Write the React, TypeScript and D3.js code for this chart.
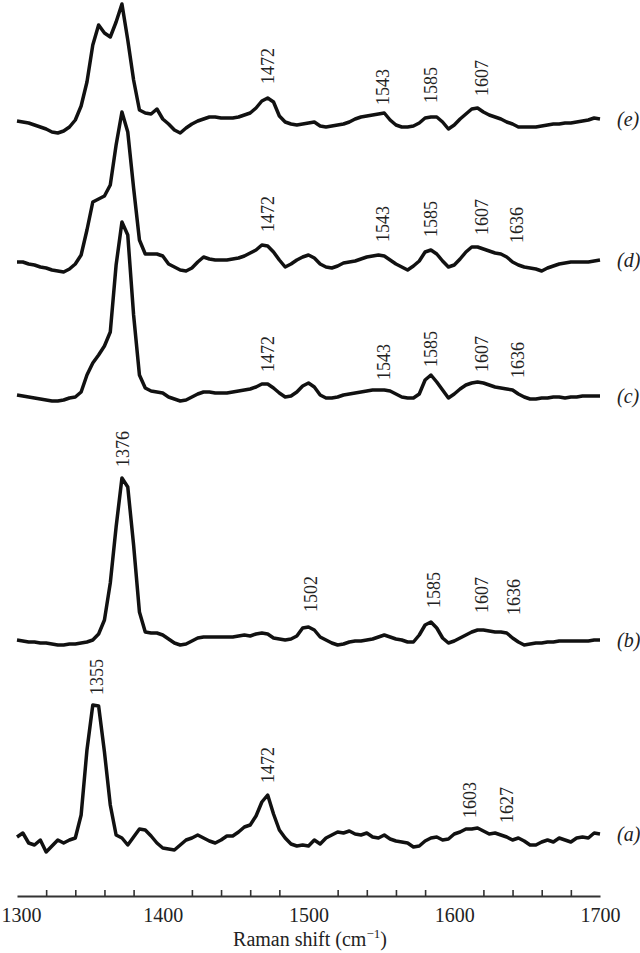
import React, { useEffect, useRef } from "react";
import * as d3 from "d3";

// Raman shift sampling grid (cm-1), 4 cm-1 steps
const shifts = d3.range(1300, 1701, 4);

const seriesNames = ["(a)", "(b)", "(c)", "(d)", "(e)"];
// vertical stacking offsets (a.u.)
const offsets = [40, 250, 495, 625, 765];

const specA = [
  23, 27, 17, 15, 20, 8, 14, 20, 17, 20,
  22, 45, 110, 155, 154, 108, 55, 25, 22, 15,
  23, 31, 30, 24, 17, 12, 11, 10, 15, 20,
  22, 25, 22, 19, 17, 20, 24, 24, 28, 33,
  35, 44, 58, 65, 46, 30, 22, 16, 14, 15,
  14, 20, 16, 22, 25, 28, 27, 29, 26, 25,
  27, 23, 22, 25, 21, 19, 18, 17, 13, 14,
  19, 22, 23, 20, 21, 26, 28, 31, 31, 32,
  29, 26, 27, 25, 23, 20, 22, 19, 15, 15,
  18, 20, 18, 22, 20, 18, 22, 23, 22, 27, 26,
];
const specB = [
  10, 9, 8, 8, 7, 7, 6, 5, 5, 6,
  6, 7, 8, 10, 16, 30, 67, 123, 172, 163,
  105, 38, 18, 17, 17, 15, 11, 7, 5, 6,
  9, 12, 13, 13, 13, 13, 13, 13, 14, 15,
  14, 16, 17, 16, 12, 11, 10, 11, 14, 22,
  23, 20, 13, 10, 7, 5, 6, 8, 9, 9,
  10, 11, 13, 15, 13, 11, 10, 8, 8, 15,
  25, 28, 22, 12, 7, 9, 12, 15, 18, 20,
  20, 19, 18, 18, 17, 12, 8, 5, 6, 7,
  7, 8, 8, 9, 9, 9, 9, 9, 9, 10, 10,
];
const specC = [
  10, 9, 8, 7, 6, 5, 4, 4, 5, 7,
  8, 13, 30, 42, 50, 59, 73, 140, 183, 170,
  90, 30, 17, 14, 13, 12, 8, 6, 4, 5,
  8, 11, 13, 13, 12, 12, 12, 13, 14, 15,
  16, 18, 21, 21, 17, 12, 8, 9, 13, 19,
  22, 18, 10, 7, 7, 8, 10, 11, 12, 13,
  14, 15, 15, 15, 14, 11, 8, 7, 7, 11,
  25, 30, 23, 15, 7, 11, 16, 20, 22, 23,
  22, 20, 18, 17, 16, 15, 11, 8, 6, 6,
  7, 7, 8, 8, 7, 8, 8, 9, 9, 9, 9,
];
const specD = [
  13, 13, 11, 10, 8, 7, 5, 4, 3, 6,
  11, 20, 45, 73, 76, 79, 90, 130, 163, 143,
  87, 35, 21, 21, 21, 19, 11, 8, 5, 4,
  7, 13, 18, 16, 15, 15, 15, 16, 17, 19,
  22, 25, 30, 29, 23, 15, 8, 11, 15, 18,
  20, 17, 11, 8, 7, 9, 12, 13, 14, 16,
  18, 19, 20, 19, 15, 11, 8, 5, 9, 14,
  23, 25, 21, 14, 8, 10, 16, 23, 28, 28,
  26, 24, 22, 21, 18, 13, 10, 8, 7, 6,
  4, 7, 9, 11, 12, 13, 13, 13, 13, 14, 15,
];
const specE = [
  14, 13, 12, 10, 8, 6, 3, 2, 4, 8,
  15, 29, 53, 90, 110, 102, 98, 113, 131, 95,
  55, 25, 22, 21, 26, 16, 11, 5, 2, 7,
  11, 14, 16, 18, 18, 17, 17, 17, 18, 20,
  22, 27, 34, 37, 33, 19, 13, 11, 10, 11,
  12, 13, 9, 8, 9, 10, 11, 13, 16, 18,
  19, 20, 21, 22, 15, 10, 8, 8, 9, 12,
  17, 18, 18, 13, 6, 10, 16, 21, 26, 27,
  23, 20, 18, 16, 13, 11, 8, 8, 8, 8,
  9, 10, 11, 11, 12, 12, 13, 14, 15, 17, 16,
];
const spectra = [specA, specB, specC, specD, specE];

// peak annotations: text, where it sits (cm-1), height above the offset (a.u.)
const peaksA = [
  { text: "1355", at: 1355, lift: 165 },
  { text: "1472", at: 1472, lift: 77 },
  { text: "1603", at: 1611, lift: 42 },
  { text: "1627", at: 1636, lift: 37 },
];
const peaksB = [
  { text: "1376", at: 1373, lift: 183 },
  { text: "1502", at: 1502, lift: 38 },
  { text: "1585", at: 1586, lift: 42 },
  { text: "1607", at: 1619, lift: 37 },
  { text: "1636", at: 1641, lift: 35 },
];
const peaksC = [
  { text: "1472", at: 1472, lift: 33 },
  { text: "1543", at: 1552, lift: 25 },
  { text: "1585", at: 1584, lift: 38 },
  { text: "1607", at: 1619, lift: 33 },
  { text: "1636", at: 1644, lift: 27 },
];
const peaksD = [
  { text: "1472", at: 1472, lift: 43 },
  { text: "1543", at: 1551, lift: 33 },
  { text: "1585", at: 1584, lift: 38 },
  { text: "1607", at: 1619, lift: 40 },
  { text: "1636", at: 1643, lift: 32 },
];
const peaksE = [
  { text: "1472", at: 1472, lift: 51 },
  { text: "1543", at: 1551, lift: 30 },
  { text: "1585", at: 1584, lift: 32 },
  { text: "1607", at: 1619, lift: 39 },
];
const peakLabels = [peaksA, peaksB, peaksC, peaksD, peaksE];

const axisLabels = [1300, 1400, 1500, 1600, 1700];
const minorTicks = [1320, 1340, 1360, 1380, 1420, 1440, 1460, 1480, 1520, 1540, 1560, 1580, 1620, 1640, 1660, 1680];

const font = "'Liberation Serif', 'Times New Roman', serif";

export default function App() {
  const ref = useRef<SVGSVGElement>(null);

  useEffect(() => {
    const svg = d3.select(ref.current);
    svg.selectAll("*").remove();

    const x = d3.scaleLinear().domain([1300, 1700]).range([17, 600]);
    const y = d3.scaleLinear().domain([0, 900]).range([900, 0]);
    const axisY = 896;

    const line = d3
      .line<number>()
      .x((d, i) => x(shifts[i]))
      .y((d) => y(d));

    spectra.forEach((s, k) => {
      const vals = s.map((v) => v + offsets[k]);
      svg
        .append("path")
        .datum(vals)
        .attr("fill", "none")
        .attr("stroke", "#111")
        .attr("stroke-width", 3.5)
        .attr("stroke-linejoin", "round")
        .attr("d", line);

      // series name at the right end
      svg
        .append("text")
        .attr("x", 617)
        .attr("y", y(vals[vals.length - 1]) + 7)
        .attr("font-family", font)
        .attr("font-style", "italic")
        .attr("font-size", 20)
        .attr("fill", "#222")
        .text(seriesNames[k]);

      peakLabels[k].forEach((p) => {
        svg
          .append("text")
          .attr("transform", `translate(${x(p.at) + 6},${y(offsets[k] + p.lift)}) rotate(-90)`)
          .attr("font-family", font)
          .attr("font-size", 18)
          .attr("fill", "#222")
          .text(p.text);
      });
    });

    // x axis: minor ticks pointing up, labels only at the hundreds
    const g1 = svg.append("g").attr("transform", `translate(0,${axisY})`);
    g1.call(
      d3.axisBottom(x).tickValues(minorTicks).tickSizeInner(-6).tickSizeOuter(0).tickFormat(() => "")
    );
    g1.select(".domain").attr("stroke", "#333").attr("stroke-width", 2.2);
    g1.selectAll(".tick line").attr("stroke", "#333").attr("stroke-width", 1.6);

    const g2 = svg.append("g").attr("transform", `translate(0,${axisY})`);
    g2.call(d3.axisBottom(x).tickValues(axisLabels).tickSize(0).tickPadding(12).tickFormat(d3.format("d")));
    g2.select(".domain").remove();
    g2.selectAll("text").attr("font-family", font).attr("font-size", 20).attr("fill", "#222");
    // keep the first label inside the picture
    g2.selectAll<SVGTextElement, number>("text")
      .filter((d) => d === 1300)
      .attr("text-anchor", "start")
      .attr("x", -16);

    const title = svg
      .append("text")
      .attr("x", 310)
      .attr("y", 946)
      .attr("text-anchor", "middle")
      .attr("font-family", font)
      .attr("font-size", 20)
      .attr("fill", "#222");
    title.append("tspan").text("Raman shift (cm");
    title.append("tspan").attr("dy", -8).attr("font-size", 13).text("\u22121");
    title.append("tspan").attr("dy", 8).text(")");
  }, []);

  return (
    <svg
      ref={ref}
      width={640}
      height={953}
      style={{ position: "absolute", left: 0, top: 0, background: "#fff" }}
    />
  );
}
